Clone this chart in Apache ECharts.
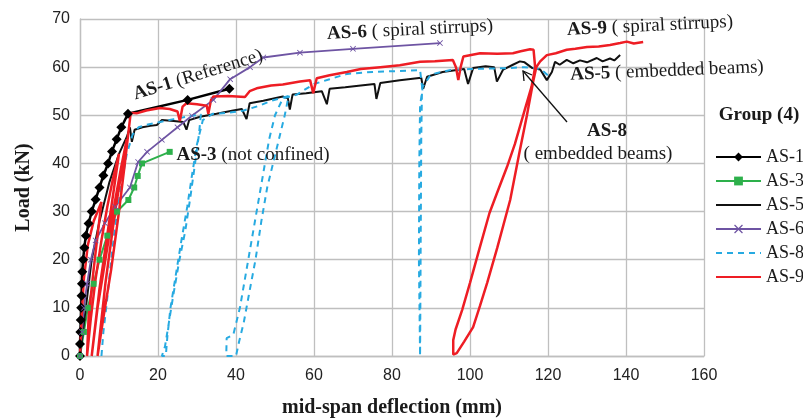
<!DOCTYPE html>
<html>
<head>
<meta charset="utf-8">
<script src="https://cdn.jsdelivr.net/npm/echarts@6/dist/echarts.min.js"></script>
<style>
  html, body { margin: 0; padding: 0; background: #fff; }
  #chart { width: 803px; height: 418px; }
</style>
</head>
<body>
<div id="chart"></div>
<script>
// [deflection (mm), load (kN)]
const as1Points = [[0,0],[0,2.5],[0.1,5],[0.2,7.5],[0.3,10],[0.4,12.5],[0.5,15],[0.6,17.5],[0.8,20],[1.1,22.5],[1.5,25],[2.2,27.5],[3,30],[4,32.5],[5,35],[6,37.5],[7.2,40],[8.2,42.5],[9.4,45],[10.6,47.5],[12.3,50.3],[27.6,53.2],[38.3,55.5]];

const as3Points = [[0,0],[1,5],[2,10],[3.5,15],[5,20],[7,25],[9.5,30],[12.4,32.4],[13.9,35],[14.8,37.4],[15.9,40],[23,42.4]];

const as5Points = [[0,0],[1.5,10],[3,20],[5,28],[7.5,36],[10,42],[12,45.5],[12.8,47.5],[13.3,44.5],[14,47],[16,47.5],[18,47.8],[19.7,48],[21,49],[24,48.8],[26.5,48.6],[27.3,47],[28,49],[30.8,49.7],[35,50.3],[39.3,51],[41.5,51.3],[42.7,49.2],[43.5,52.5],[47,53],[52,53.9],[53.3,53.5],[53.8,51.2],[54.5,54.3],[58,54.6],[62,55],[63.3,52.3],[64,55.5],[68,55.8],[72,56.2],[75.5,56.5],[76,53.4],[77,56.7],[82,57.3],[87.5,57.8],[88,55.5],[89,58],[93,59],[96.6,59.4],[98.5,59.6],[99.5,56.5],[100.8,59.8],[104,60.2],[106.2,60],[106.9,57],[108.5,59.5],[111,60.5],[112.8,61.2],[114,61],[116,59.8],[118,59.5],[119.7,57.3],[121,59],[121.8,61.1],[123,60.5],[124.8,61.5],[126.5,60.8],[128.2,61.4],[130,61],[132.5,61.9],[134,61.2],[135.9,61.8],[137,61.4],[138.5,62.5]];

const as6Points = [[0,0],[0.5,5],[1,10],[1.8,15],[2.8,20],[4,24],[6.4,27.6],[9,31],[12.8,35],[14.9,40.3],[17.2,42.4],[21,44.9],[25,47.5],[28.7,49.9],[34.2,53.2],[38.5,57.5],[43.6,60],[47,62],[56.4,63],[70,63.8],[92.3,65]];

const as8Points = [[5.5,0],[6,5],[7,12],[8,20],[9,27],[10.5,35],[12,42],[13.5,46],[15,47.5],[17,48],[20,48.5],[24,49.2],[28,49.8],[31,50.2],[30.5,46],[29.5,40],[28.3,33],[27,26],[25.5,20],[24,13],[22.8,7],[21.8,2],[21,0],[22,0],[22.4,4],[23.2,10],[24.6,17],[26,24],[27.5,31],[28.8,38],[30,44],[31.5,49],[34,50.3],[38,50.5],[42,51],[46,52],[49,53],[53.5,54],[52.5,50],[51,45],[49.5,40],[48,35],[46.5,28],[45,20],[43.6,14],[42,7],[40.8,3],[40,0],[37.5,0],[37.6,3.7],[39.3,4.4],[41,10],[42.5,17],[44,24],[45.5,31],[47,38],[48.5,45],[50,50],[52,53.5],[55.6,54.3],[60,56.5],[64,57.5],[68.5,58.6],[75,59],[82,59.2],[87.2,59.4],[87.7,56],[87.5,45],[87.4,30],[87.3,15],[87.2,0],[86.9,0],[86.9,20],[87,40],[87.2,52],[87.9,56],[90,58.5],[95,59.4],[100,59.6],[105,59.7],[110,59.8],[114,60],[117,59.8],[119,59],[120,58.3]];

const as9Points = [[0,0],[0.4,8],[1,16],[2,23],[3.5,28],[5.5,32],[3.5,18],[2.2,8],[1.8,0],[2.8,8],[4,16],[5.5,24],[7,31],[8.5,37],[10,42],[7.5,28],[5,14],[3,0],[4.5,10],[6.5,20],[8.5,30],[10.5,39],[12,45],[9,30],[6.5,15],[4.5,0],[6,8],[8,18],[10,30],[11.5,40],[12.5,47],[13,50.5],[14.5,50.4],[17,51],[20.5,51.5],[23,51.3],[25,50.8],[25.6,48.8],[26.3,51.8],[27.3,52.5],[30,52.3],[32.5,52],[32.9,50.3],[33.6,53.2],[34.2,53.9],[38,54],[42.3,53.8],[43.5,55],[45.3,55.6],[49,56.2],[52,56.4],[56.4,57],[59,57.3],[59.8,54.6],[60.7,57.7],[64,58.3],[68.4,59],[72,59.6],[77,60],[82,60.4],[87.2,61.1],[91,61.2],[95.6,61.5],[96.4,60],[97,57.3],[97.6,60],[98.3,62.2],[102.6,62.9],[107,62.8],[111,62.9],[113,63.3],[115.4,63.7],[116.3,63.6],[116.7,60],[115.8,56],[114,51],[111.5,44],[109.5,39.3],[107,34],[105,29.7],[102.5,22.5],[100,15.2],[98,9.6],[96.3,5.5],[95.7,3.3],[95.7,0.3],[96.6,0.6],[98.5,3],[100.8,6],[102.6,10.5],[104.4,15.2],[107,22.5],[110.3,32.4],[112.8,42.8],[114.6,50],[116.2,57],[117,60],[118,61.2],[119.7,62.5],[122,62.9],[124.8,63.6],[127,63.8],[130,64.2],[133,64.3],[135.9,64.6],[138.5,65],[140.2,65.3],[142,64.9],[144.4,65.2]];

const seriesNames = ['AS-1', 'AS-3', 'AS-5', 'AS-6', 'AS-8', 'AS-9'];
const plainLineNames = ['AS-5', 'AS-8', 'AS-9'];

const myChart = echarts.init(document.getElementById('chart'), null, { renderer: 'canvas' });

const serif = 'Liberation Serif';
const sans = 'Liberation Sans';
const crossSymbol = 'path://M0,1L1,0L5,4L9,0L10,1L6,5L10,9L9,10L5,6L1,10L0,9L4,5Z';

function label(x, y, bold, normal, rot, size) {
  return {
    type: 'text',
    x: x,
    y: y,
    rotation: rot || 0,
    z: 100,
    style: {
      text: (bold ? '{b|' + bold + '}' : '') + (normal ? '{n|' + normal + '}' : ''),
      align: 'center',
      verticalAlign: 'middle',
      rich: {
        b: { fontFamily: serif, fontWeight: 'bold', fontSize: size || 19, fill: '#1a1a1a' },
        n: { fontFamily: serif, fontSize: size || 19, fill: '#1a1a1a' }
      }
    }
  };
}

const option = {
  animation: false,
  backgroundColor: '#fff',
  grid: { left: 80, top: 19, right: 99, bottom: 62, containLabel: false, outerBoundsMode: 'none' },
  xAxis: {
    type: 'value',
    min: 0,
    max: 160,
    interval: 20,
    name: 'mid-span deflection (mm)',
    nameLocation: 'middle',
    nameGap: 42,
    nameTextStyle: { fontFamily: serif, fontWeight: 'bold', fontSize: 20, color: '#1a1a1a' },
    axisLine: { lineStyle: { color: '#BFBFBF', width: 1.3 } },
    axisTick: { show: false },
    axisLabel: { fontFamily: sans, fontSize: 16, color: '#222', margin: 12 },
    splitLine: { lineStyle: { color: '#BFBFBF', width: 1.3 } }
  },
  yAxis: {
    type: 'value',
    min: 0,
    max: 70,
    interval: 10,
    name: 'Load (kN)',
    nameLocation: 'middle',
    nameRotate: 90,
    nameGap: 46,
    nameTextStyle: { fontFamily: serif, fontWeight: 'bold', fontSize: 20, color: '#1a1a1a' },
    axisLine: { show: true, lineStyle: { color: '#BFBFBF', width: 1.3 } },
    axisTick: { show: false },
    axisLabel: { fontFamily: sans, fontSize: 16, color: '#222', margin: 10 },
    splitLine: { lineStyle: { color: '#BFBFBF', width: 1.3 } }
  },
  legend: {
    data: seriesNames.map(n => plainLineNames.includes(n)
      ? { name: n, itemStyle: { opacity: 0 } }
      : { name: n }),
    orient: 'vertical',
    left: 715,
    top: 148,
    itemWidth: 45,
    itemHeight: 11,
    itemGap: 6,
    padding: 0,
    textStyle: { fontFamily: serif, fontSize: 18, color: '#1a1a1a', lineHeight: 18 }
  },
  graphic: [
    label(198, 75, 'AS-1', ' (Reference)', 0.3),
    label(253, 155, 'AS-3', ' (not confined)', 0),
    label(410, 30, 'AS-6', ' ( spiral stirrups)', 0.05),
    label(650, 26, 'AS-9', ' ( spiral stirrups)', 0.05),
    label(667, 71, 'AS-5', ' ( embedded beams)', 0.04),
    label(607, 131, 'AS-8', '', 0),
    label(598, 154, '', '( embedded beams)', 0),
    label(759, 115, 'Group (4)', '', 0),
    {
      type: 'line',
      z: 100,
      shape: { x1: 567, y1: 122, x2: 523, y2: 71 },
      style: { stroke: '#111', lineWidth: 1.3 }
    },
    {
      type: 'polyline',
      z: 100,
      shape: { points: [[524, 81], [523, 71], [532, 75]] },
      style: { stroke: '#111', lineWidth: 1.3, fill: null }
    }
  ],
  series: [
    {
      name: 'AS-1',
      type: 'line',
      data: as1Points,
      symbol: 'diamond',
      symbolSize: 10,
      color: '#000',
      itemStyle: { color: '#000' },
      lineStyle: { color: '#000', width: 2.5 }
    },
    {
      name: 'AS-3',
      type: 'line',
      data: as3Points,
      symbol: 'rect',
      symbolSize: 6,
      color: '#2DB04B',
      itemStyle: { color: '#2DB04B' },
      lineStyle: { color: '#2DB04B', width: 2 }
    },
    {
      name: 'AS-5',
      type: 'line',
      data: as5Points,
      symbol: 'none',
      color: '#111',
      lineStyle: { color: '#111', width: 2 }
    },
    {
      name: 'AS-6',
      type: 'line',
      data: as6Points,
      symbol: crossSymbol,
      symbolSize: 6,
      color: '#6E54A3',
      itemStyle: { color: '#6E54A3' },
      lineStyle: { color: '#6E54A3', width: 1.8 }
    },
    {
      name: 'AS-8',
      type: 'line',
      data: as8Points,
      symbol: 'none',
      color: '#27AAE1',
      lineStyle: { color: '#27AAE1', width: 2, type: [6, 5] }
    },
    {
      name: 'AS-9',
      type: 'line',
      data: as9Points,
      symbol: 'none',
      color: '#EE1D24',
      lineStyle: { color: '#EE1D24', width: 2.5 }
    }
  ]
};

myChart.setOption(option);
window.addEventListener('resize', () => myChart.resize());
</script>
</body>
</html>
